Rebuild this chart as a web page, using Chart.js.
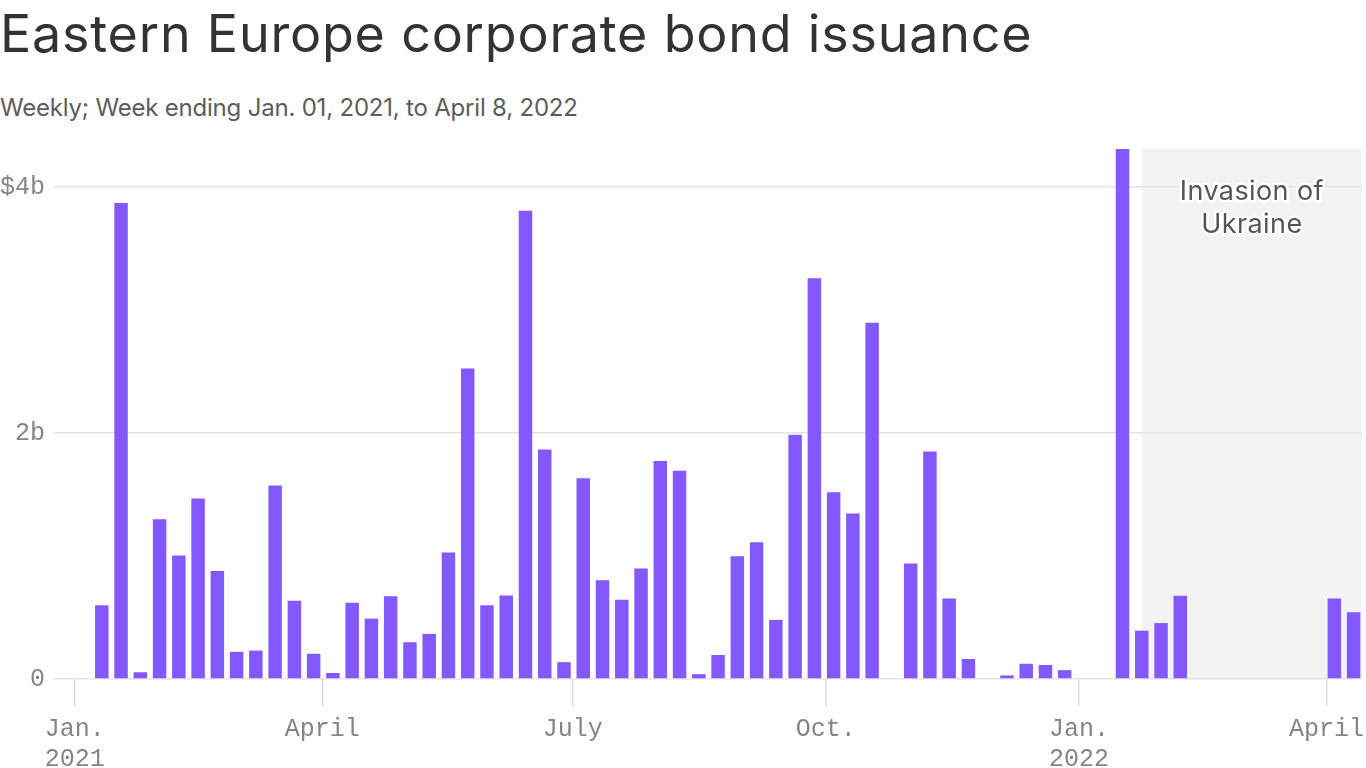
<!DOCTYPE html>
<html>
<head>
<meta charset="utf-8">
<script src="https://cdn.jsdelivr.net/npm/chart.js@4.4.1/dist/chart.umd.min.js"></script>
<style>
  html, body { margin: 0; padding: 0; background: #fff; width: 1366px; height: 768px; overflow: hidden; }
  #title { position: absolute; left: 0; top: 8px; font-family: Inter, "Noto Sans", sans-serif; font-size: 52px; line-height: 1; color: #333; white-space: nowrap; letter-spacing: 0.8px; }
  #subtitle { position: absolute; left: 0; top: 96px; font-family: Inter, "Noto Sans", sans-serif; font-size: 24px; line-height: 1; color: #5c5c5c; white-space: nowrap; letter-spacing: -0.2px; }
  #chart { position: absolute; left: 0; top: 0; }
</style>
</head>
<body>
<div id="title">Eastern Europe corporate bond issuance</div>
<div id="subtitle">Weekly; Week ending Jan. 01, 2021, to April 8, 2022</div>
<canvas id="chart" width="1366" height="768"></canvas>
<script>
// ---- data ----
const firstWeekEnding = '2021-01-01';
const weekCount = 67;
// weekly issuance, $ billions, week ending Jan. 1, 2021 ... April 8, 2022
const issuance = [
  0, 0.60, 3.87, 0.055, 1.30, 1.005, 1.467, 0.878, 0.221, 0.231,
  1.574, 0.637, 0.205, 0.049, 0.621, 0.491, 0.673, 0.299, 0.367, 1.028,
  2.524, 0.60, 0.68, 3.808, 1.867, 0.137, 1.633, 0.803, 0.644, 0.898,
  1.772, 1.694, 0.039, 0.195, 0.998, 1.112, 0.481, 1.987, 3.259, 1.519,
  1.346, 2.898, 0, 0.94, 1.85, 0.654, 0.163, 0, 0.029, 0.124,
  0.114, 0.072, 0, 0, 4.31, 0.393, 0.455, 0.676, 0, 0,
  0, 0, 0, 0, 0, 0.654, 0.543
];
const xTickDates = ['2021-01-01', '2021-04-01', '2021-07-01', '2021-10-01', '2022-01-01', '2022-04-01'];
const xTickLabels = [['Jan.', '2021'], ['April'], ['July'], ['Oct.'], ['Jan.', '2022'], ['April']];
const yTickValues = [0, 2, 4];
const yTickLabels = ['0', '2b', '$4b'];
const shadeStartWeek = '2022-01-21';
const annotationLines = ['Invasion of', 'Ukraine'];

// ---- helpers ----
const DAY = 86400000;
const origin = Date.parse(firstWeekEnding + 'T00:00:00Z');
const dayOf = s => (Date.parse(s + 'T00:00:00Z') - origin) / DAY;
const weeks = [];
for (let k = 0; k < weekCount; k++) {
  weeks.push(new Date(origin + k * 7 * DAY).toISOString().slice(0, 10));
}

// style constants
const BAR_SHIFT = 2.85;      // bars drawn just after their week-ending date
const TICK_FONT = { family: '"Liberation Mono", "DejaVu Sans Mono", monospace', size: 25, lineHeight: 1.2 };
const TICK_COLOR = '#858585';

const shadePlugin = {
  id: 'shade',
  beforeDraw(chart) {
    const { ctx, chartArea } = chart;
    const x = chart.scales.x, y = chart.scales.y;
    const left = x.getPixelForValue(dayOf(shadeStartWeek) + BAR_SHIFT);
    const bottom = y.getPixelForValue(0);
    ctx.save();
    ctx.fillStyle = '#f3f3f3';
    ctx.fillRect(left, chartArea.top, chartArea.right - left, bottom - chartArea.top);
    ctx.restore();
  }
};

const annotationPlugin = {
  id: 'annot',
  afterDraw(chart) {
    const { ctx, chartArea } = chart;
    const x = chart.scales.x;
    const left = x.getPixelForValue(dayOf(shadeStartWeek) + BAR_SHIFT);
    const cx = (left + chartArea.right) / 2;
    ctx.save();
    ctx.font = '27px Inter, "Noto Sans", sans-serif';
    ctx.letterSpacing = '0.4px';
    ctx.textAlign = 'center';
    ctx.textBaseline = 'alphabetic';
    ctx.lineJoin = 'round';
    ctx.lineWidth = 5;
    ctx.strokeStyle = '#ffffff';
    ctx.fillStyle = '#555555';
    annotationLines.forEach((t, i) => ctx.strokeText(t, cx, chartArea.top + 50.5 + i * 33));
    annotationLines.forEach((t, i) => ctx.fillText(t, cx, chartArea.top + 50.5 + i * 33));
    ctx.restore();
  }
};

new Chart(document.getElementById('chart'), {
  type: 'bar',
  data: {
    datasets: [{
      data: weeks.map((w, i) => ({ x: dayOf(w) + BAR_SHIFT, y: issuance[i] })),
      backgroundColor: '#8458ff',
      borderWidth: 0,
      barPercentage: 0.7,
      categoryPercentage: 1
    }]
  },
  options: {
    responsive: false,
    animation: false,
    events: [],
    layout: { padding: { top: 149, right: 4, left: 0, bottom: 0 } },
    plugins: { legend: { display: false }, tooltip: { enabled: false } },
    scales: {
      x: {
        type: 'linear',
        offset: false,
        min: -0.62,
        max: 467.9,
        afterBuildTicks: s => { s.ticks = xTickDates.map(d => ({ value: dayOf(d) })); },
        afterFit: s => { s.height = 89; s.paddingLeft = 0; s.paddingRight = 0; },
        ticks: {
          autoSkip: false, maxRotation: 0, minRotation: 0,
          callback: (v, i) => xTickLabels[i],
          font: TICK_FONT, color: TICK_COLOR, padding: 8
        },
        grid: { offset: false, drawOnChartArea: false, drawTicks: true, tickLength: 27, color: '#dddddd', lineWidth: 1.5 },
        border: { display: false }
      },
      y: {
        min: 0,
        max: Math.max(...issuance),
        afterBuildTicks: s => { s.ticks = yTickValues.map(v => ({ value: v })); },
        afterFit: s => { s.width = 73; },
        ticks: {
          callback: (v, i) => yTickLabels[i],
          font: TICK_FONT, color: TICK_COLOR, padding: 9
        },
        grid: { color: '#e3e3e3', lineWidth: 1.5, drawTicks: true, tickLength: 19 },
        border: { display: false }
      }
    }
  },
  plugins: [shadePlugin, annotationPlugin]
});
</script>
</body>
</html>
